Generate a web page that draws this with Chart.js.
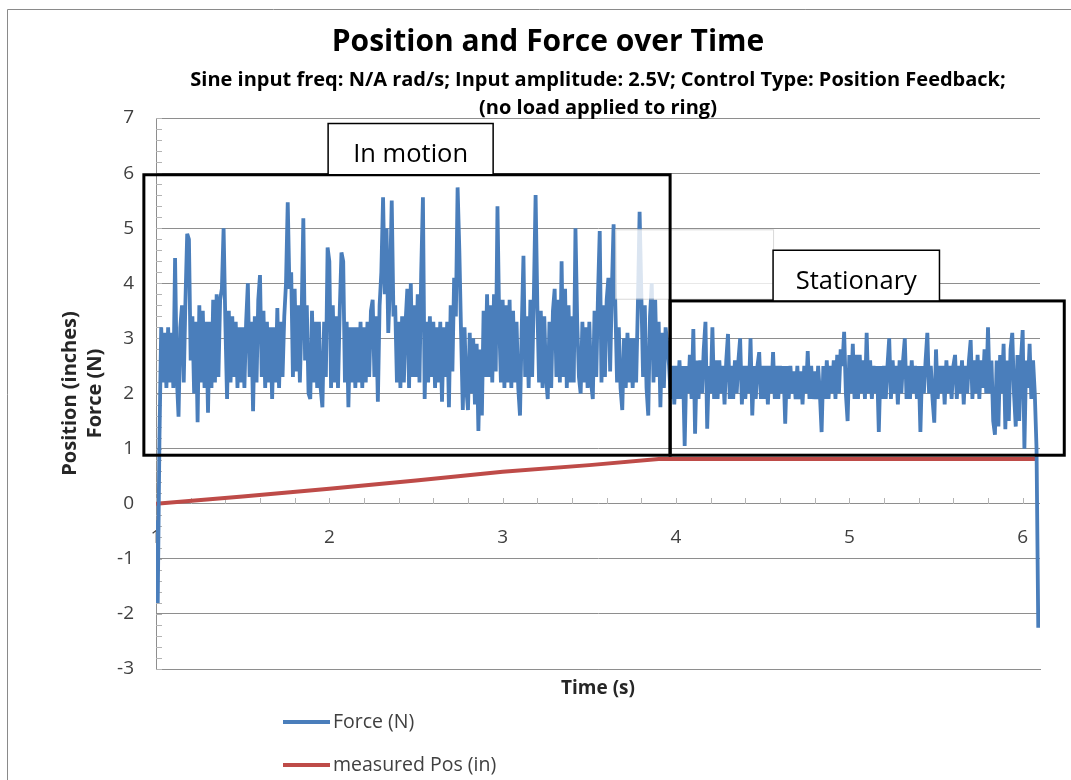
<!DOCTYPE html>
<html>
<head>
<meta charset="utf-8">
<script src="https://cdn.jsdelivr.net/npm/chart.js@4.4.1/dist/chart.umd.min.js"></script>
<style>
html, body { margin: 0; padding: 0; background: #ffffff; overflow: hidden; }
#wrap { width: 1071px; height: 780px; }
canvas { display: block; }
</style>
</head>
<body>
<div id="wrap"><canvas id="c" width="1071" height="780"></canvas></div>
<script>
// ---------------- DATA ----------------
const TITLE = 'Position and Force over Time';
const SUBTITLE_LINES = [
  'Sine input freq: N/A rad/s; Input amplitude: 2.5V; Control Type: Position Feedback;',
  '(no load applied to ring)'
];
const X_TITLE = 'Time (s)';
const Y_TITLE = ['Position (inches)', 'Force (N)'];
const SERIES_NAMES = ['Force (N)', 'measured Pos (in)'];
const X_TICKS = [1, 2, 3, 4, 5, 6];
const Y_TICKS = [-3, -2, -1, 0, 1, 2, 3, 4, 5, 6, 7];

// Force samples, one every 0.01 s starting at t = 1.00 s (one row per 0.1 s)
const FORCE_T_START = 1.0;
const FORCE_T_STEP = 0.01;
const FORCE_N = [
  -0.3, -1.8, 1.2, 3.2, 2.2, 3.1, 2.1, 3.2, 2.2, 3.1,
  2.1, 4.46, 2.3, 1.58, 3.2, 3.6, 2.2, 3.7, 4.9, 4.8,
  2.6, 3.4, 2.0, 3.3, 1.48, 3.6, 2.2, 3.5, 2.1, 3.3,
  1.65, 3.3, 2.1, 3.7, 2.2, 3.8, 2.3, 3.7, 3.9, 5.0,
  3.3, 1.9, 3.5, 2.2, 3.4, 2.3, 3.3, 2.1, 3.2, 2.2,
  3.2, 2.1, 3.3, 4.0, 2.3, 3.3, 1.68, 3.4, 2.2, 3.7,
  4.15, 2.3, 3.5, 2.1, 3.3, 2.2, 3.2, 1.9, 3.2, 2.2,
  3.55, 2.1, 3.3, 2.3, 3.4, 4.0, 5.47, 3.9, 4.2, 2.3,
  3.9, 2.4, 3.6, 2.2, 3.4, 5.18, 2.6, 3.6, 2.0, 1.9,
  3.5, 2.2, 3.3, 2.1, 3.3, 2.1, 1.75, 3.3, 2.3, 4.65,
  4.4, 2.1, 3.6, 2.2, 3.4, 2.1, 3.5, 4.56, 4.4, 2.2,
  3.3, 1.75, 3.2, 2.2, 3.2, 2.1, 3.2, 2.2, 3.3, 2.1,
  3.2, 2.2, 3.3, 2.3, 3.5, 3.7, 2.3, 3.4, 1.85, 3.6,
  4.2, 5.56, 3.8, 5.0, 3.1, 4.0, 5.5, 3.4, 3.6, 2.2,
  3.3, 2.1, 3.4, 2.2, 3.3, 3.9, 2.1, 4.0, 2.3, 3.6,
  2.3, 3.8, 2.2, 4.2, 5.56, 1.9, 3.3, 2.2, 3.4, 2.3,
  3.3, 2.1, 3.2, 2.2, 3.3, 1.85, 3.2, 2.3, 3.3, 1.75,
  3.6, 2.4, 4.1, 3.4, 5.74, 4.6, 3.1, 1.7, 3.2, 2.1,
  1.7, 3.1, 2.0, 3.0, 1.8, 2.9, 1.32, 2.8, 1.6, 3.5,
  2.3, 3.8, 2.3, 3.6, 2.2, 3.8, 2.4, 5.4, 3.3, 2.2,
  3.7, 2.1, 3.6, 2.2, 3.7, 2.1, 3.5, 2.2, 3.3, 2.1,
  1.6, 3.2, 4.5, 2.3, 3.4, 2.1, 3.7, 2.3, 3.8, 5.6,
  3.6, 2.2, 3.5, 2.1, 3.4, 2.3, 1.9, 3.3, 2.1, 3.5,
  3.9, 2.3, 3.7, 2.2, 4.4, 2.3, 3.9, 2.1, 3.6, 2.2,
  3.4, 2.2, 5.0, 3.3, 2.3, 2.0, 3.3, 2.2, 3.2, 2.1,
  3.3, 2.2, 1.9, 3.5, 2.3, 3.8, 4.95, 2.2, 3.6, 2.3,
  3.7, 4.1, 2.4, 3.9, 5.07, 3.6, 2.2, 3.2, 2.1, 1.7,
  3.0, 2.1, 3.1, 2.2, 3.0, 2.1, 3.0, 2.2, 3.6, 5.3,
  3.8, 2.3, 3.6, 2.1, 1.6, 3.4, 4.0, 2.2, 3.7, 2.3,
  3.3, 1.75, 3.1, 2.1, 3.2, 2.9, 2.5, 1.9, 2.5, 1.8,
  2.5, 1.9, 2.6, 1.9, 2.5, 1.05, 2.5, 2.0, 2.7, 1.9,
  3.17, 1.27, 2.6, 1.9, 2.6, 2.0, 2.8, 3.3, 1.36, 2.5,
  2.0, 3.2, 1.9, 2.6, 1.9, 2.6, 2.0, 2.5, 1.8, 2.6,
  3.08, 1.9, 2.5, 1.9, 2.6, 2.0, 2.6, 3.0, 1.8, 2.5,
  1.9, 2.5, 2.0, 3.0, 1.6, 2.5, 1.9, 2.5, 2.75, 1.9,
  2.5, 1.9, 2.5, 1.8, 2.5, 2.0, 2.75, 1.9, 2.5, 1.9,
  2.5, 2.0, 2.5, 1.45, 2.5, 1.9, 2.5, 2.0, 2.4, 1.9,
  2.5, 1.9, 2.4, 1.8, 2.5, 2.0, 2.77, 1.9, 2.5, 1.9,
  2.4, 1.9, 2.5, 2.0, 1.3, 2.5, 1.9, 2.6, 1.9, 2.5,
  2.0, 2.6, 1.9, 2.7, 2.0, 2.8, 2.5, 3.12, 2.0, 1.5,
  2.7, 2.0, 2.9, 1.9, 2.7, 1.9, 2.7, 2.0, 2.6, 1.9,
  3.1, 2.0, 2.6, 1.9, 2.5, 2.0, 2.5, 1.3, 2.5, 1.9,
  2.5, 1.9, 2.5, 3.0, 1.9, 2.6, 2.0, 2.5, 1.8, 2.6,
  2.0, 2.6, 3.0, 1.9, 2.5, 1.9, 2.6, 2.0, 2.5, 1.9,
  2.5, 1.3, 2.5, 2.0, 2.6, 3.1, 2.0, 2.5, 1.9, 1.47,
  2.8, 1.9, 2.5, 2.0, 2.5, 1.8, 2.6, 2.0, 2.5, 1.9,
  2.5, 2.7, 1.9, 2.5, 2.0, 2.6, 1.8, 2.5, 2.0, 2.6,
  2.97, 1.9, 2.6, 2.0, 2.7, 1.9, 2.6, 2.1, 2.8, 2.0,
  3.2, 2.0, 2.6, 1.5, 1.25, 2.6, 1.4, 2.7, 2.0, 2.9,
  1.35, 2.6, 1.5, 2.8, 3.1, 2.0, 1.4, 2.7, 1.5, 2.6,
  3.15, 1.0, 2.6, 2.1, 2.9, 1.9, 2.6, 2.0, 1.0, -2.25
];

// Measured position (inches)
const POS_TIME = [1.0, 1.5, 2.0, 2.5, 3.0, 3.5, 3.9, 6.08];
const POS_IN   = [0.0, 0.13, 0.27, 0.42, 0.58, 0.70, 0.81, 0.81];

// Annotation regions (data units)
const REGION_BOXES = [
  { x0: 0.93, x1: 3.966, y0: 0.88, y1: 5.97 },
  { x0: 3.966, x1: 6.24, y0: 0.88, y1: 3.68 }
];
const REGION_LABELS = [
  { text: 'In motion', x0: 1.993, x1: 2.945, y0: 5.97, y1: 6.90 },
  { text: 'Stationary', x0: 4.56, x1: 5.52, y0: 3.68, y1: 4.60 }
];
const GHOST_BOX = { x0: 3.65, x1: 4.56, y0: 3.72, y1: 4.98 };

// ---------------- STYLE ----------------
const FONT = "'Open Sans', Lato, 'DejaVu Sans', sans-serif";
const BLUE = '#4a7ebb';
const RED = '#be4b48';
const GRID = '#8e8e8e';
const TICK_TEXT = '#404040';

const forcePoints = FORCE_N.map((v, i) => ({ x: +(FORCE_T_START + i * FORCE_T_STEP).toFixed(2), y: v }));
const posPoints = POS_TIME.map((t, i) => ({ x: t, y: POS_IN[i] }));

const decor = {
  id: 'decor',
  beforeDatasetsDraw(chart) {
    const { ctx, chartArea: a, scales: { x, y } } = chart;
    ctx.save();
    ctx.strokeStyle = '#b4b4b4';
    ctx.lineWidth = 1;
    for (let k = 0; k <= 50; k++) {
      const v = Y_TICKS[0] + k * 0.2;
      const py = Math.round(y.getPixelForValue(v)) + 0.5;
      ctx.beginPath(); ctx.moveTo(a.left, py); ctx.lineTo(a.left + 6, py); ctx.stroke();
    }
    const y0 = Math.round(y.getPixelForValue(0));
    for (let k = 0; k <= 25; k++) {
      const v = X_TICKS[0] + k * 0.2;
      if (v > x.max + 1e-9) break;
      const px = Math.round(x.getPixelForValue(v)) + 0.5;
      ctx.beginPath(); ctx.moveTo(px, y0); ctx.lineTo(px, y0 - 6); ctx.stroke();
    }
    ctx.restore();
  },
  afterDatasetsDraw(chart) {
    const { ctx, scales: { x, y } } = chart;
    const rect = (b) => {
      const l = x.getPixelForValue(b.x0), r = x.getPixelForValue(b.x1);
      const t = y.getPixelForValue(b.y1), bt = y.getPixelForValue(b.y0);
      return { l, r, t, b: bt, w: r - l, h: bt - t };
    };
    ctx.save();
    const g = rect(GHOST_BOX);
    ctx.fillStyle = 'rgba(255,255,255,0.8)';
    ctx.fillRect(g.l, g.t, g.w, g.h);
    ctx.strokeStyle = 'rgba(190,190,190,0.6)';
    ctx.lineWidth = 1;
    ctx.strokeRect(g.l + 0.5, g.t + 0.5, g.w, g.h);
    ctx.strokeStyle = '#000';
    ctx.lineWidth = 3;
    REGION_BOXES.forEach(b => { const r = rect(b); ctx.strokeRect(r.l, r.t, r.w, r.h); });
    REGION_LABELS.forEach(lb => {
      const r = rect(lb);
      ctx.fillStyle = '#fff';
      ctx.fillRect(r.l, r.t, r.w, r.h);
      ctx.strokeStyle = '#000';
      ctx.lineWidth = 1.5;
      ctx.strokeRect(r.l, r.t, r.w, r.h);
      ctx.fillStyle = '#000';
      ctx.font = '25.5px ' + FONT;
      ctx.textAlign = 'center';
      ctx.textBaseline = 'middle';
      ctx.fillText(lb.text, (r.l + r.r) / 2, (r.t + r.b) / 2 + 6);
    });
    ctx.restore();
  },
  afterDraw(chart) {
    const { ctx } = chart;
    ctx.save();
    const rows = [722, 765];
    chart.data.datasets.forEach((ds, i) => {
      const yy = rows[i];
      ctx.strokeStyle = ds.borderColor;
      ctx.lineWidth = 4;
      ctx.lineCap = 'butt';
      ctx.beginPath(); ctx.moveTo(283, yy); ctx.lineTo(330, yy); ctx.stroke();
      ctx.fillStyle = TICK_TEXT;
      ctx.font = '19.5px ' + FONT;
      ctx.textAlign = 'left';
      ctx.textBaseline = 'middle';
      ctx.fillText(ds.label, 333, yy);
    });
    ctx.strokeStyle = '#8a8a8a';
    ctx.lineWidth = 1;
    ctx.beginPath();
    ctx.moveTo(7.5, 780); ctx.lineTo(7.5, 9.5); ctx.lineTo(1071, 9.5);
    ctx.stroke();
    ctx.restore();
  }
};

Chart.defaults.font.family = FONT;

new Chart(document.getElementById('c'), {
  type: 'line',
  data: {
    datasets: [
      { label: SERIES_NAMES[0], data: forcePoints, borderColor: BLUE, backgroundColor: BLUE,
        borderWidth: 3.8, borderJoinStyle: 'bevel', pointRadius: 0, tension: 0, xAxisID: 'x', yAxisID: 'y' },
      { label: SERIES_NAMES[1], data: posPoints, borderColor: RED, backgroundColor: RED,
        borderWidth: 4, pointRadius: 0, tension: 0, xAxisID: 'x', yAxisID: 'y' }
    ]
  },
  options: {
    responsive: false,
    devicePixelRatio: 1,
    animation: false,
    layout: { padding: { left: 56, right: 31, top: 0, bottom: 80 } },
    plugins: {
      legend: { display: false },
      tooltip: { enabled: false },
      title: {
        display: true, text: TITLE, color: '#000',
        font: { family: FONT, size: 30, weight: 'bold', lineHeight: 1.2 },
        padding: { top: 24, bottom: 0 }
      },
      subtitle: {
        display: true, text: SUBTITLE_LINES, color: '#000', fullSize: false,
        font: { family: FONT, size: 20, weight: 'bold', lineHeight: '28px' },
        padding: { top: 6, bottom: -4 }
      }
    },
    scales: {
      x: {
        type: 'linear', position: 'bottom', min: X_TICKS[0], max: 6.1,
        ticks: { display: false },
        grid: { display: false, drawTicks: false },
        border: { display: true, color: GRID },
        title: { display: true, text: X_TITLE, color: '#262626',
                 font: { family: FONT, size: 19, weight: 'bold', lineHeight: 1.2 },
                 padding: { top: 0, bottom: 0 } },
        afterFit(s) { s.height = 31; }
      },
      xl: {
        type: 'linear', axis: 'x', position: { y: 0 }, min: X_TICKS[0], max: 6.1,
        ticks: { stepSize: 1, includeBounds: false, color: TICK_TEXT, padding: 22, maxRotation: 0,
                 font: { family: FONT, size: 19 },
                 callback: (v) => X_TICKS.includes(v) ? String(v) : '' },
        grid: { display: false, drawTicks: false },
        border: { display: false }
      },
      y: {
        type: 'linear', position: 'left', min: Y_TICKS[0], max: Y_TICKS[Y_TICKS.length - 1],
        ticks: { stepSize: 1, color: TICK_TEXT, padding: 22, font: { family: FONT, size: 19 } },
        grid: { color: GRID, drawTicks: false },
        border: { display: true, color: GRID },
        title: { display: true, text: Y_TITLE, color: '#262626',
                 font: { family: FONT, size: 20, weight: 'bold', lineHeight: '25px' },
                 padding: { top: 2, bottom: 0 } },
        afterFit(s) { s.width = 100; }
      }
    }
  },
  plugins: [decor]
});
</script>
</body>
</html>
